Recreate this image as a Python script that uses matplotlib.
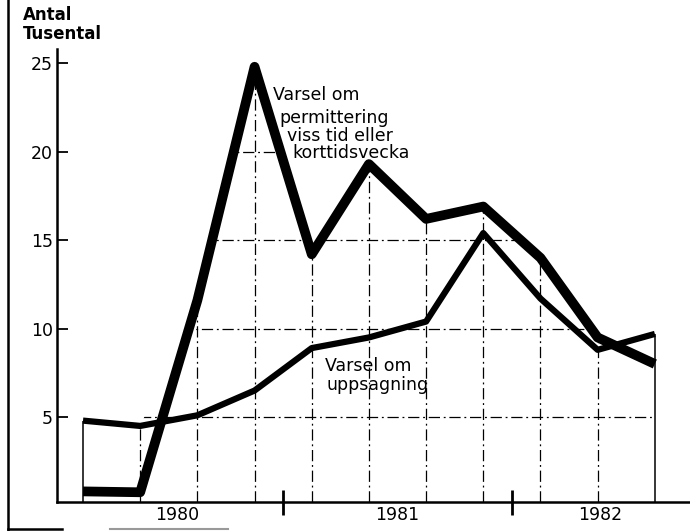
import matplotlib.pyplot as plt
import numpy as np
from matplotlib.patches import Polygon
from matplotlib.lines import Line2D

# quarters, 1980 Q1 .. 1982 Q3 (index 0..10)
quarters = np.arange(11)
permittering = [0.8, 0.75, 11.6, 24.8, 14.2, 19.3, 16.2, 16.9, 14.0, 9.5, 8.0]
uppsagning = [4.8, 4.5, 5.1, 6.5, 8.9, 9.5, 10.4, 15.4, 11.7, 8.8, 9.7]

y_ticks = [5, 10, 15, 20, 25]
grid_levels = [5, 10, 15, 20]
years = ['1980', '1981', '1982']
year_pos = [1.65, 5.5, 9.05]
year_bounds = [3.5, 7.5]

plt.rcParams['font.family'] = ['DejaVu Sans']

fig = plt.figure(figsize=(6.9, 5.31), dpi=100)
ax = fig.add_axes([0.0826, 0.0546, 0.917, 0.853])
ax.set_xlim(-0.455, 10.61)
ax.set_ylim(0.2, 25.8)

# grid only below the upper curve
envelope = np.maximum(permittering, uppsagning)
verts = [(quarters[0], 0.2)] + list(zip(quarters, envelope)) + [(quarters[-1], 0.2)]
clip = Polygon(verts, closed=True, transform=ax.transData, facecolor='none', edgecolor='none')
ax.add_patch(clip)

dashdot = (0, (9, 3, 1.5, 3))
for lev in grid_levels:
    gl = ax.axhline(lev, color='black', lw=0.9, ls=dashdot, zorder=1)
    gl.set_clip_path(clip)
ax.vlines(quarters[1:-1], 0.2, envelope[1:-1], color='black', lw=0.9,
          linestyles=[dashdot], zorder=1)
ax.vlines([quarters[0], quarters[-1]], 0.2,
          [max(permittering[0], uppsagning[0]), max(permittering[-1], uppsagning[-1])],
          color='black', lw=1.1, zorder=1)

ax.plot(quarters, permittering, color='black', lw=7, solid_joinstyle='round',
        solid_capstyle='butt', zorder=3)
ax.plot(quarters, uppsagning, color='black', lw=4.5, solid_joinstyle='round',
        solid_capstyle='butt', zorder=4)

# labels on the chart
perm_lines = ['Varsel om', 'permittering', 'viss tid eller', 'korttidsvecka']
perm_x = [3.32, 3.44, 3.57, 3.67]
perm_y = [23.2, 21.9, 20.9, 19.9]
for s, x, y in zip(perm_lines, perm_x, perm_y):
    ax.text(x, y, s, fontsize=12.5, ha='left', va='center')
ax.text(4.23, 7.9, 'Varsel om', fontsize=12.5, ha='left', va='center')
ax.text(4.25, 6.8, 'uppsagning', fontsize=12.5, ha='left', va='center')

# axes styling
for s in ['top', 'right']:
    ax.spines[s].set_visible(False)
ax.spines['left'].set_linewidth(1.8)
ax.spines['bottom'].set_linewidth(1.8)

ax.set_yticks(y_ticks)
ax.tick_params(axis='y', direction='in', length=8, width=1.3, labelsize=12.5, pad=3)
ax.set_xticks(year_pos)
ax.set_xticklabels(years)
ax.tick_params(axis='x', which='major', length=0, labelsize=12.5, pad=3)
ax.set_xticks(year_bounds, minor=True)
ax.tick_params(axis='x', which='minor', direction='inout', length=18, width=2)

fig.text(0.033, 0.972, 'Antal', fontsize=12, fontweight='bold', ha='left', va='center')
fig.text(0.033, 0.936, 'Tusental', fontsize=12, fontweight='bold', ha='left', va='center')

# scanned page frame
fig.add_artist(Line2D([0.011, 0.011], [0.0, 1.0], color='black', lw=1.8))
fig.add_artist(Line2D([0.011, 0.09], [0.004, 0.004], color='black', lw=1.8))
fig.add_artist(Line2D([0.16, 0.33], [0.004, 0.004], color='0.6', lw=1.5))

fig.savefig('out.png', dpi=100)
